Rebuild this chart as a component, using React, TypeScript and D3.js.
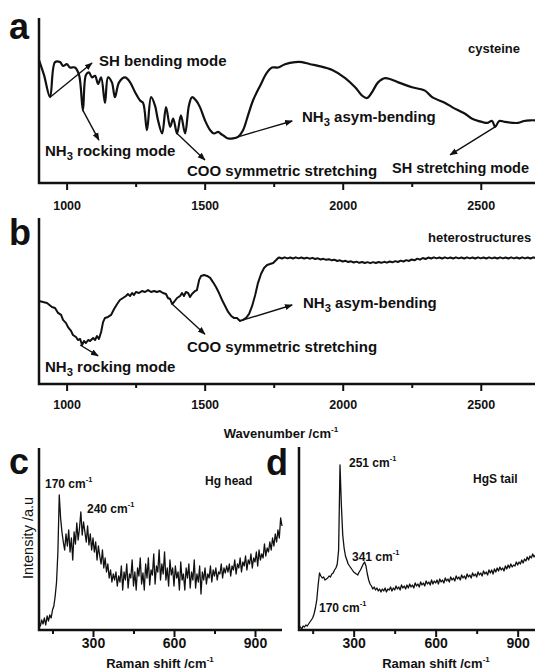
import React, { useEffect, useRef } from "react";
import * as d3 from "d3";

const FONT = "'Liberation Sans', Arial, Helvetica, sans-serif";
const INK = "#111";

// (a) cysteine FTIR, transmittance (arb. units 0..1 of panel height)
const cysteineWavenumber = [
  900, 918, 940, 958, 976, 987, 1001, 1012, 1030, 1045,
  1059, 1070, 1081, 1092, 1103, 1114, 1125, 1139, 1150, 1164,
  1175, 1190, 1212, 1230, 1248, 1266, 1277, 1291, 1306, 1320,
  1331, 1346, 1360, 1375, 1386, 1400, 1414, 1429, 1443, 1454,
  1469, 1483, 1501, 1520, 1534, 1549, 1559, 1570, 1585, 1603,
  1621, 1639, 1657, 1675, 1701, 1726, 1744, 1766, 1791, 1828,
  1853, 1882, 1911, 1962, 2009, 2045, 2070, 2088, 2106, 2128,
  2154, 2201, 2251, 2298, 2324, 2371, 2396, 2443, 2469, 2505,
  2523, 2541, 2552, 2567, 2588, 2635, 2657, 2679, 2700,
];
const cysteineTransmittance = [
  0.745, 0.655, 0.52, 0.733, 0.733, 0.71, 0.72, 0.70, 0.70, 0.655,
  0.44, 0.655, 0.67, 0.64, 0.65, 0.60, 0.64, 0.485, 0.64, 0.61,
  0.52, 0.61, 0.64, 0.61, 0.55, 0.50, 0.485, 0.32, 0.52, 0.47,
  0.38, 0.30, 0.46, 0.34, 0.39, 0.30, 0.41, 0.30, 0.47, 0.52,
  0.50, 0.46, 0.38, 0.32, 0.30, 0.31, 0.297, 0.285, 0.27, 0.27,
  0.28, 0.32, 0.41, 0.50, 0.59, 0.67, 0.70, 0.70, 0.72, 0.733,
  0.733, 0.72, 0.71, 0.685, 0.636, 0.58, 0.53, 0.515, 0.55, 0.61,
  0.636, 0.61, 0.58, 0.56, 0.52, 0.485, 0.46, 0.42, 0.39, 0.37,
  0.364, 0.376, 0.34, 0.376, 0.37, 0.364, 0.376, 0.38, 0.38,
];

// (b) heterostructures FTIR
const heteroWavenumber = [
  900, 929, 947, 958, 969, 980, 987, 998, 1005, 1016,
  1023, 1034, 1041, 1049, 1056, 1063, 1070, 1078, 1085, 1096,
  1103, 1110, 1117, 1125, 1132, 1139, 1150, 1161, 1172, 1183,
  1193, 1204, 1215, 1222, 1230, 1237, 1244, 1251, 1262, 1273,
  1284, 1295, 1306, 1317, 1327, 1338, 1349, 1360, 1367, 1375,
  1382, 1389, 1400, 1411, 1418, 1425, 1432, 1440, 1447, 1454,
  1465, 1472, 1480, 1487, 1498, 1509, 1520, 1530, 1541, 1552,
  1563, 1574, 1585, 1596, 1606, 1617, 1628, 1639, 1650, 1661,
  1672, 1683, 1693, 1704, 1715, 1726, 1737, 1748, 1759, 1766,
];
const heteroTransmittance = [
  0.50, 0.488, 0.464, 0.458, 0.428, 0.416, 0.386, 0.367, 0.343, 0.32,
  0.295, 0.283, 0.265, 0.271, 0.235, 0.259, 0.247, 0.265, 0.259, 0.277,
  0.265, 0.289, 0.271, 0.313, 0.373, 0.398, 0.404, 0.416, 0.452, 0.482,
  0.506, 0.518, 0.53, 0.542, 0.53, 0.548, 0.536, 0.554, 0.548, 0.56,
  0.554, 0.566, 0.554, 0.56, 0.554, 0.56, 0.548, 0.542, 0.518, 0.512,
  0.482, 0.494, 0.518, 0.53, 0.548, 0.53, 0.554, 0.548, 0.524, 0.542,
  0.56, 0.566, 0.627, 0.651, 0.657, 0.651, 0.639, 0.614, 0.584, 0.548,
  0.506, 0.47, 0.434, 0.41, 0.398, 0.398, 0.38, 0.386, 0.398, 0.422,
  0.47, 0.536, 0.608, 0.663, 0.699, 0.717, 0.723, 0.729, 0.747, 0.759,
];
const heteroPlateauWavenumber = d3.range(1770, 2701, 10);
const heteroPlateauTransmittance = [
  0.762, 0.756, 0.763, 0.757, 0.762, 0.756, 0.763, 0.757, 0.762, 0.756,
  0.761, 0.755, 0.760, 0.753, 0.757, 0.750, 0.754, 0.748, 0.752, 0.745,
  0.749, 0.741, 0.745, 0.738, 0.742, 0.735, 0.739, 0.732, 0.737, 0.730,
  0.735, 0.729, 0.734, 0.728, 0.734, 0.729, 0.735, 0.730, 0.736, 0.731,
  0.738, 0.733, 0.740, 0.735, 0.743, 0.738, 0.746, 0.741, 0.750, 0.745,
  0.755, 0.749, 0.759, 0.753, 0.762, 0.756, 0.763, 0.757, 0.762, 0.756,
  0.763, 0.757, 0.762, 0.756, 0.763, 0.757, 0.762, 0.756, 0.763, 0.757,
  0.762, 0.756, 0.763, 0.757, 0.762, 0.756, 0.763, 0.757, 0.762, 0.756,
  0.763, 0.757, 0.762, 0.756, 0.763, 0.757, 0.762, 0.756, 0.763, 0.757,
  0.762, 0.756, 0.763, 0.758,
];

const irMajorTicks = [1000, 1500, 2000, 2500];
const irMinorTicks = [1250, 1750, 2250];

// (c) / (d) Raman spectra, 100..1000 cm-1 every 5 cm-1
const ramanShift = d3.range(100, 1001, 5);
const hgHeadIntensity = [
  8, 4, 10, 6, 12, 5, 14, 9, 15, 12, 20, 24, 34, 48, 78, 135, 112, 98, 88, 80,
  96, 84, 100, 78, 92, 70, 98, 86, 107, 90, 102, 118, 95, 108, 98, 88, 104, 85, 96, 80,
  92, 78, 88, 70, 84, 74, 66, 80, 62, 72, 58, 66, 52, 60, 48, 56, 50, 58, 44, 54,
  48, 64, 40, 58, 50, 66, 42, 56, 52, 70, 44, 58, 40, 62, 54, 72, 46, 57, 40, 66,
  52, 72, 45, 60, 55, 76, 46, 64, 58, 80, 50, 66, 56, 78, 50, 62, 44, 70, 55, 62,
  44, 64, 52, 58, 40, 68, 50, 56, 40, 62, 52, 66, 42, 58, 50, 70, 42, 56, 48, 64,
  36, 58, 50, 62, 46, 56, 52, 64, 48, 60, 54, 62, 50, 58, 56, 66, 52, 62, 57, 64,
  58, 66, 54, 64, 60, 70, 56, 66, 62, 72, 58, 68, 64, 74, 60, 70, 66, 76, 62, 72,
  68, 78, 64, 80, 70, 76, 72, 86, 74, 82, 78, 88, 80, 92, 84, 96, 88, 100, 92, 112, 104,
];
const hgsTailIntensity = [
  2, 3, 1, 4, 3, 5, 4, 6, 8, 10, 12, 16, 22, 30, 45, 57, 54, 52, 53, 50,
  51, 52, 54, 53, 56, 57, 60, 62, 66, 80, 165, 125, 95, 82, 74, 70, 66, 64, 62, 60,
  58, 57, 56, 55, 58, 60, 63, 66, 68, 64, 56, 50, 46, 44, 41, 43, 40, 42, 39, 41,
  38, 41, 39, 42, 38, 41, 40, 43, 39, 42, 40, 44, 41, 43, 40, 45, 42, 44, 41, 45,
  42, 46, 43, 45, 42, 47, 44, 46, 43, 48, 45, 47, 44, 49, 46, 48, 45, 50, 46, 49,
  47, 50, 46, 51, 48, 50, 47, 52, 49, 51, 48, 53, 50, 52, 49, 54, 51, 53, 50, 55,
  52, 54, 51, 56, 53, 55, 52, 57, 54, 56, 53, 58, 55, 57, 54, 59, 56, 58, 55, 60,
  57, 60, 56, 61, 58, 62, 59, 63, 60, 62, 59, 64, 61, 65, 62, 66, 63, 65, 64, 68,
  65, 68, 66, 70, 67, 71, 69, 73, 70, 74, 72, 76, 73, 75, 74, 78, 76, 80, 77, 79, 81,
];
const ramanMajorTicks = [300, 600, 900];
const ramanMinorTicks = [150, 450, 750];

type Sel = d3.Selection<any, any, any, any>;
type Scale = d3.ScaleLinear<number, number>;

const App = () => {
  const ref = useRef<SVGSVGElement>(null);

  useEffect(() => {
    const svg = d3.select(ref.current);
    svg.selectAll("*").remove();

    svg.append("defs").append("marker")
      .attr("id", "arrowhead")
      .attr("viewBox", "0 0 10 10")
      .attr("refX", 9).attr("refY", 5)
      .attr("markerWidth", 8).attr("markerHeight", 8)
      .attr("markerUnits", "userSpaceOnUse")
      .attr("orient", "auto")
      .append("path").attr("d", "M0,1.2L10,5L0,8.8Z").attr("fill", INK);

    const text = (x: number, y: number, size: number, weight = "bold") =>
      svg.append("text")
        .attr("x", x).attr("y", y)
        .attr("font-family", FONT).attr("font-size", size)
        .attr("font-weight", weight).attr("fill", INK);

    const nh3 = (t: Sel, rest: string) => {
      t.append("tspan").text("NH");
      t.append("tspan").attr("dy", 4).attr("font-size", "0.75em").text("3");
      t.append("tspan").attr("dy", -4).text(rest);
    };
    // "<head>cm" followed by a superscript -1
    const cm1 = (t: Sel, head: string) => {
      t.append("tspan").text(head + "cm");
      t.append("tspan").attr("dy", -6).attr("font-size", "0.62em").text("-1");
    };

    const axes = (x: Scale, y: Scale, major: number[], minor: number[], labelY: number, labelSize: number, xEnd: number) => {
      const [yb, yt] = y.range();
      const x0 = x.range()[0];
      svg.append("g").attr("transform", `translate(0,${yb})`)
        .call(d3.axisBottom(x).tickValues(minor).tickSize(4).tickSizeOuter(0).tickFormat(() => ""))
        .call(g => g.select(".domain").remove())
        .call(g => g.selectAll("line").attr("stroke", INK).attr("stroke-width", 2));
      svg.append("g").attr("transform", `translate(0,${yb})`)
        .call(d3.axisBottom(x).tickValues(major).tickSize(7).tickSizeOuter(0).tickFormat(d3.format("d")))
        .attr("font-family", FONT).attr("font-size", labelSize).attr("font-weight", "bold")
        .call(g => g.select(".domain").remove())
        .call(g => g.selectAll("line").attr("stroke", INK).attr("stroke-width", 2))
        .call(g => g.selectAll("text").attr("y", labelY).attr("dy", null).attr("fill", INK));
      svg.append("path")
        .attr("d", `M${x0},${yt}V${yb}H${xEnd}`)
        .attr("fill", "none").attr("stroke", INK).attr("stroke-width", 2.5);
    };

    const trace = (x: Scale, y: Scale, xs: number[], ys: number[], width: number, curve: d3.CurveFactory) => {
      const line = d3.line<[number, number]>().x(d => x(d[0])).y(d => y(d[1])).curve(curve);
      svg.append("path").datum(d3.zip(xs, ys) as [number, number][])
        .attr("d", line).attr("fill", "none")
        .attr("stroke", INK).attr("stroke-width", width).attr("stroke-linejoin", "round");
    };

    const arrow = (x: Scale, y: Scale, from: [number, number], to: [number, number]) =>
      svg.append("line")
        .attr("x1", x(from[0])).attr("y1", y(from[1]))
        .attr("x2", x(to[0])).attr("y2", y(to[1]))
        .attr("stroke", INK).attr("stroke-width", 1.4)
        .attr("marker-end", "url(#arrowhead)");

    // ---------- panel a ----------
    const xIR = d3.scaleLinear().domain([900, 2700]).range([39, 536]);
    const yA = d3.scaleLinear().domain([0, 1]).range([183, 18]);
    axes(xIR, yA, irMajorTicks, irMinorTicks, 27, 12.5, 535);
    trace(xIR, yA, cysteineWavenumber, cysteineTransmittance, 2.2, d3.curveCatmullRom.alpha(0.5));
    arrow(xIR, yA, [940, 0.52], [1092, 0.727]);
    arrow(xIR, yA, [1059, 0.44], [1117, 0.26]);
    arrow(xIR, yA, [1400, 0.30], [1501, 0.14]);
    arrow(xIR, yA, [1621, 0.28], [1817, 0.376]);
    arrow(xIR, yA, [2552, 0.34], [2389, 0.17]);
    text(9, 39, 36).text("a");
    text(99, 66, 15).text("SH bending mode");
    nh3(text(45, 156, 15), " rocking mode");
    text(187, 176, 15).text("COO symmetric stretching");
    nh3(text(302, 122, 15), " asym-bending");
    text(392, 173, 14.5).text("SH stretching mode");
    text(468, 53, 13).text("cysteine");

    // ---------- panel b ----------
    const yB = d3.scaleLinear().domain([0, 1]).range([384, 218]);
    axes(xIR, yB, irMajorTicks, irMinorTicks, 25, 12.5, 535);
    trace(xIR, yB, heteroWavenumber.concat(heteroPlateauWavenumber), heteroTransmittance.concat(heteroPlateauTransmittance), 2, d3.curveLinear);
    arrow(xIR, yB, [1049, 0.235], [1114, 0.169]);
    arrow(xIR, yB, [1382, 0.482], [1501, 0.30]);
    arrow(xIR, yB, [1628, 0.38], [1817, 0.476]);
    text(9, 245, 36).text("b");
    text(428, 242, 13).text("heterostructures");
    nh3(text(303, 308, 15), " asym-bending");
    text(187, 352, 15).text("COO symmetric stretching");
    nh3(text(45, 372, 15), "  rocking mode");
    cm1(text(281, 438, 13).attr("text-anchor", "middle"), "Wavenumber /");

    // ---------- panel c ----------
    const xC = d3.scaleLinear().domain([100, 1000]).range([39, 282]);
    const yC = d3.scaleLinear().domain([0, 182]).range([630, 448]);
    axes(xC, yC, ramanMajorTicks, ramanMinorTicks, 18, 14, 282);
    trace(xC, yC, ramanShift, hgHeadIntensity, 1.3, d3.curveLinear);
    text(9, 474, 36).text("c");
    cm1(text(45, 488, 12), "170 ");
    cm1(text(87, 513, 12), "240 ");
    text(205, 485, 12).text("Hg head");
    cm1(text(160, 668, 13).attr("text-anchor", "middle"), "Raman shift /");
    text(0, 0, 14.5, "normal").attr("text-anchor", "middle")
      .attr("transform", "translate(33,538) rotate(-90)").text("Intensity /a.u");

    // ---------- panel d ----------
    const xD = d3.scaleLinear().domain([100, 1000]).range([299, 545]);
    const yD = d3.scaleLinear().domain([0, 183]).range([630, 447]);
    axes(xD, yD, ramanMajorTicks, ramanMinorTicks, 18, 14, 535);
    trace(xD, yD, ramanShift, hgsTailIntensity, 1.3, d3.curveLinear);
    text(266, 475, 36).text("d");
    cm1(text(349, 467, 12), "251 ");
    cm1(text(352, 561, 12), "341 ");
    cm1(text(319, 612, 12), "170 ");
    text(473, 483, 12).text("HgS tail");
    cm1(text(436, 668, 13).attr("text-anchor", "middle"), "Raman shift /");
  }, []);

  return (
    <div style={{ position: "absolute", left: 0, top: 0 }}>
      <svg ref={ref} width={535} height={671} style={{ display: "block", background: "#fff" }}></svg>
    </div>
  );
};

export default App;
